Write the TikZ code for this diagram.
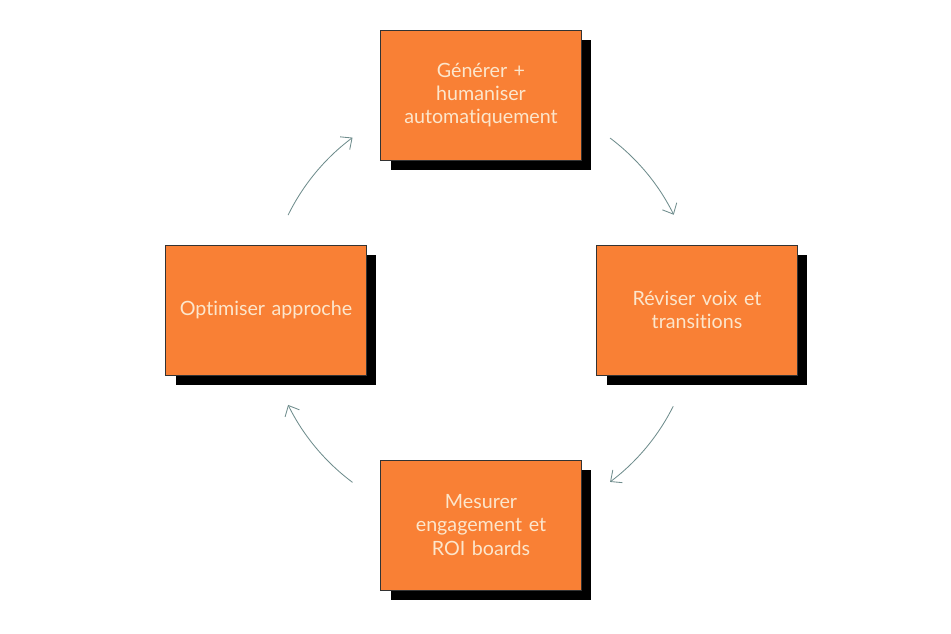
\documentclass[tikz,border=0pt]{standalone}
\usepackage{fontspec}
\setmainfont{Lato}[Ligatures=NoCommon]
\usepackage{xcolor}
\usetikzlibrary{arrows.meta,calc}
\definecolor{boxorange}{HTML}{F98035}
\definecolor{boxtext}{HTML}{FCE6CC}
\definecolor{cyclearrow}{HTML}{6E8C8C}

\begin{document}
\begin{tikzpicture}[
        etape/.style={draw=black!80, line width=0.5pt, fill=boxorange, text=boxtext,
            minimum width=5cm, minimum height=3.25cm, align=center, text width=4.8cm,
            font=\fontsize{14}{16.5}\selectfont},
        ombre/.style={fill=black, minimum width=5cm, minimum height=3.25cm},
        cycle/.style={cyclearrow, line width=0.6pt, -{Straight Barb[length=2.2mm,width=4mm]}}
    ]

        \useasboundingbox (0,0) rectangle (23.775,15.85);
        \coordinate (Centre) at (12.025,8.1);

        % ombres
        \node[ombre] at (12.275,13.225) {};
        \node[ombre] at (6.9,7.85) {};
        \node[ombre] at (17.675,7.85) {};
        \node[ombre] at (12.275,2.475) {};

        % etapes
        \node[etape] (generer) at (12.025,13.475) {Générer +\\ humaniser\\ automatiquement};
        \node[etape] (reviser) at (17.425,8.1) {Réviser voix et\\ transitions};
        \node[etape] (mesurer) at (12.025,2.725) {Mesurer\\ engagement et\\ ROI boards};
        \node[etape] (optimiser) at (6.65,8.1) {Optimiser approche};

        % fleches
        \draw[cycle] (Centre) ++ (153.8:5.375) arc (153.8:126.7:5.375);
        \draw[cycle] (Centre) ++ (53.1:5.375) arc (53.1:26.3:5.375);
        \draw[cycle] (Centre) ++ (-26.6:5.375) arc (-26.6:-53.1:5.375);
        \draw[cycle] (Centre) ++ (-126.7:5.375) arc (-126.7:-153.8:5.375);
    \end{tikzpicture}
\end{document}
